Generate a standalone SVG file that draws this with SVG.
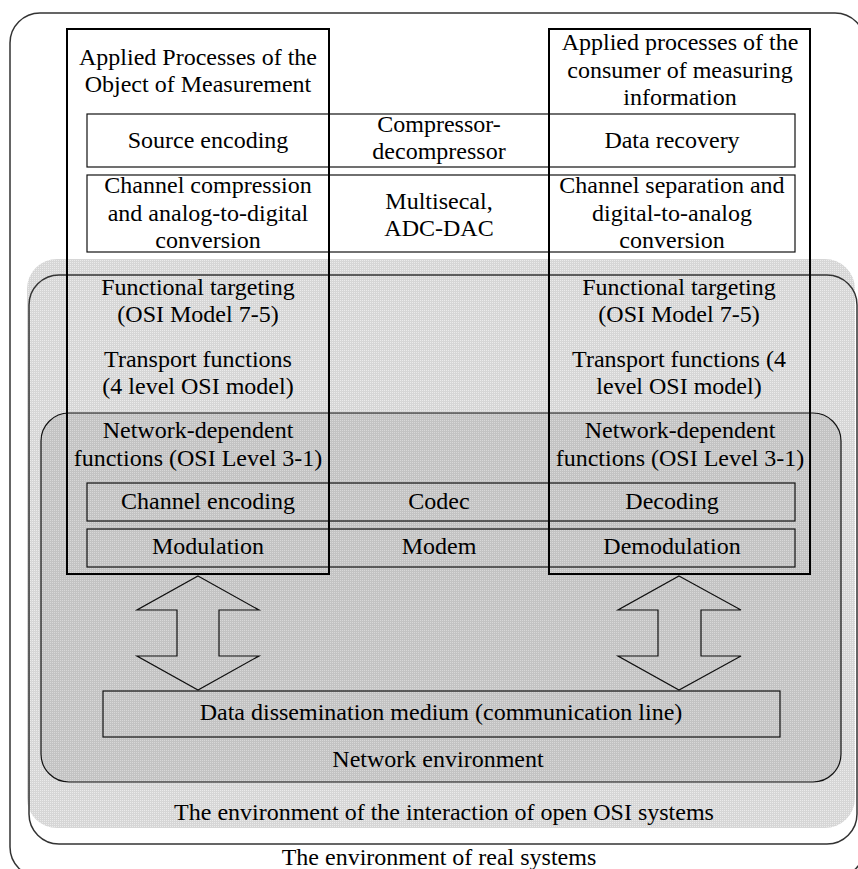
<svg xmlns="http://www.w3.org/2000/svg" width="858" height="869" viewBox="0 0 858 869">
<defs>
<style>
text{font-family:"Liberation Serif","Times New Roman",serif;font-size:24px;fill:#000;text-anchor:middle}
.frame{fill:none;stroke:#333;stroke-width:1.5}
.box{fill:none;stroke:#111;stroke-width:1.2}
.wbox{fill:#fff;stroke:#111;stroke-width:1.2}
.app{fill:none;stroke:#000;stroke-width:2}
.arrow{fill:none;stroke:#111;stroke-width:1.2}
</style>
<pattern id="dotL" width="2" height="2" patternUnits="userSpaceOnUse">
<rect width="2" height="2" fill="#d6d6d6"/><rect width="1" height="1" fill="#ebebeb"/>
</pattern>
<pattern id="dotN" width="2" height="2" patternUnits="userSpaceOnUse">
<rect width="2" height="2" fill="#c3c3c3"/><rect width="1" height="1" fill="#d8d8d8"/>
</pattern>
</defs>

<g id="real-systems">
<rect class="frame" x="10" y="13" width="855" height="864" rx="30"/>
<text x="439" y="865">The environment of real systems</text>
</g>

<g id="osi-environment">
<rect x="27" y="259" width="828" height="569" rx="30" fill="url(#dotL)"/>
<rect class="frame" x="29" y="275" width="828" height="569" rx="30"/>
<text x="444" y="820">The environment of the interaction of open OSI systems</text>
</g>

<g id="network-environment">
<rect x="41" y="413" width="800" height="369" rx="28" fill="url(#dotN)" stroke="#111" stroke-width="1.2"/>
<text x="438" y="767">Network environment</text>
</g>

<g id="row-source">
<rect class="wbox" x="87" y="114" width="708" height="53"/>
<text x="208" y="148">Source encoding</text>
<text x="439" y="132">Compressor-</text>
<text x="439" y="159">decompressor</text>
<text x="672" y="148">Data recovery</text>
</g>

<g id="row-channel">
<rect class="wbox" x="87" y="175" width="708" height="77"/>
<text x="208" y="193">Channel compression</text>
<text x="208" y="221">and analog-to-digital</text>
<text x="208" y="248">conversion</text>
<text x="439" y="209">Multisecal,</text>
<text x="439" y="236">ADC-DAC</text>
<text x="672" y="193">Channel separation and</text>
<text x="672" y="221">digital-to-analog</text>
<text x="672" y="248">conversion</text>
</g>

<g id="row-codec">
<rect class="box" x="87" y="483" width="708" height="38"/>
<text x="208" y="509">Channel encoding</text>
<text x="439" y="509">Codec</text>
<text x="672" y="509">Decoding</text>
</g>

<g id="row-modem">
<rect class="box" x="87" y="529" width="708" height="38"/>
<text x="208" y="554">Modulation</text>
<text x="439" y="554">Modem</text>
<text x="672" y="554">Demodulation</text>
</g>

<g id="applied-object">
<rect class="app" x="67" y="29" width="262" height="545"/>
<text x="198" y="65">Applied Processes of the</text>
<text x="198" y="92">Object of Measurement</text>
<text x="198" y="295">Functional targeting</text>
<text x="198" y="322">(OSI Model 7-5)</text>
<text x="198" y="367">Transport functions</text>
<text x="198" y="394">(4 level OSI model)</text>
<text x="198" y="438">Network-dependent</text>
<text x="198" y="466">functions (OSI Level 3-1)</text>
</g>

<g id="applied-consumer">
<rect class="app" x="549" y="29" width="261" height="545"/>
<text x="680" y="50">Applied processes of the</text>
<text x="680" y="78">consumer of measuring</text>
<text x="680" y="105">information</text>
<text x="679" y="295">Functional targeting</text>
<text x="679" y="322">(OSI Model 7-5)</text>
<text x="679" y="367">Transport functions (4</text>
<text x="679" y="394">level OSI model)</text>
<text x="680" y="438">Network-dependent</text>
<text x="680" y="466">functions (OSI Level 3-1)</text>
</g>

<g id="medium">
<rect class="box" x="103" y="691" width="677" height="46"/>
<text x="441" y="720">Data dissemination medium (communication line)</text>
</g>

<g id="connectors">
<polygon class="arrow" points="198,576 259,610 219,610 219,656 259,656 198,690 137,656 177,656 177,610 137,610"/>
<polygon class="arrow" points="679,576 741,610 701,610 701,656 741,656 679,690 618,656 658,656 658,610 618,610"/>
</g>
</svg>
